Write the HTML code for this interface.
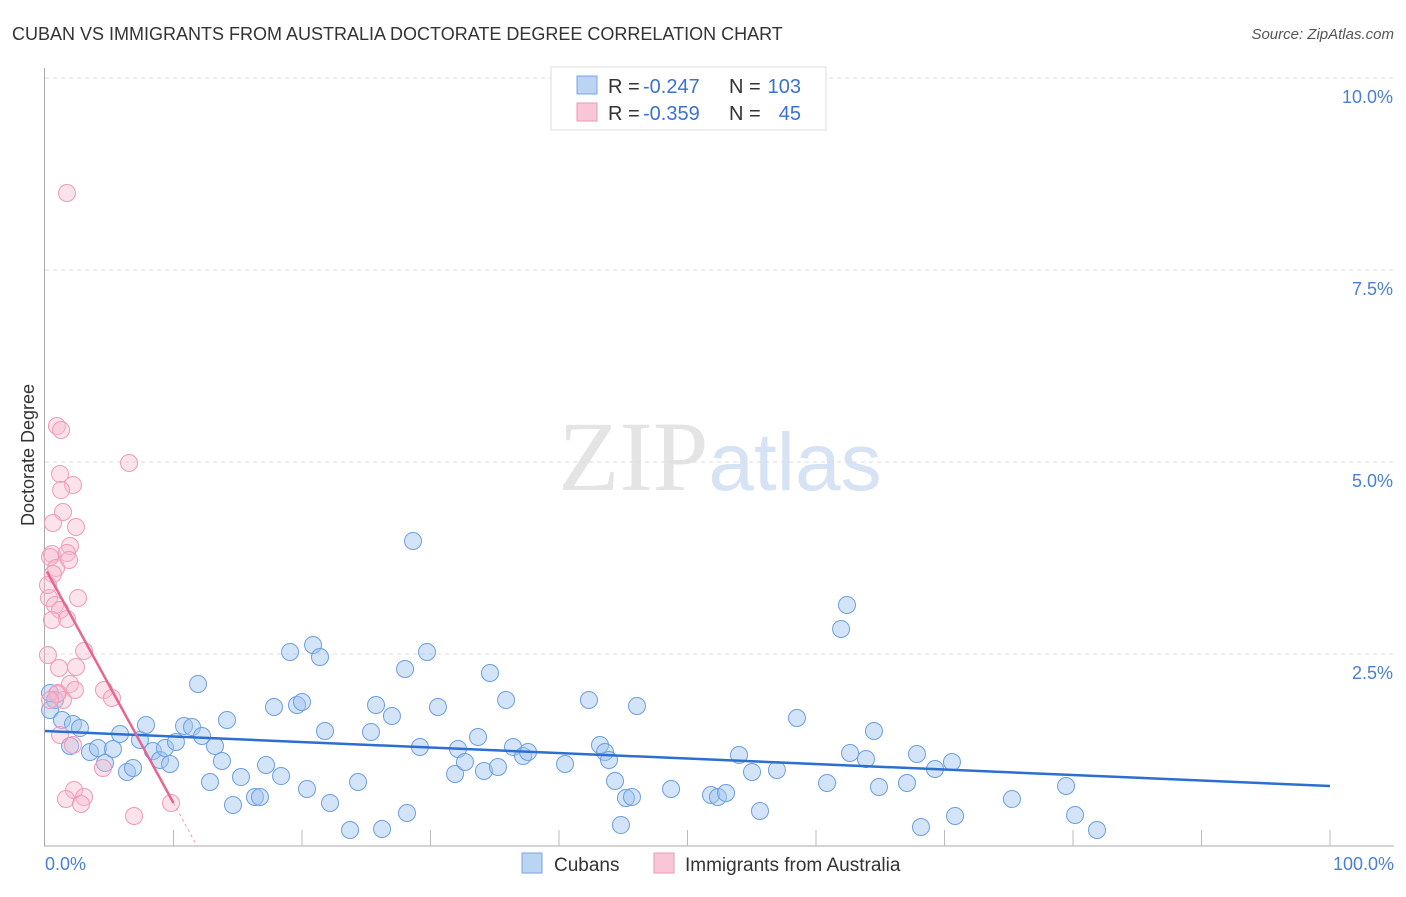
<!DOCTYPE html>
<html><head><meta charset="utf-8"><style>
body{margin:0;background:#fff;font-family:"Liberation Sans",sans-serif}
svg text{font-family:"Liberation Sans",sans-serif}
</style></head><body>
<svg width="1406" height="892">
<text x="12" y="40" font-size="18" fill="#333">CUBAN VS IMMIGRANTS FROM AUSTRALIA DOCTORATE DEGREE CORRELATION CHART</text>
<text x="1394" y="39" font-size="15" fill="#555" font-style="italic" text-anchor="end">Source: ZipAtlas.com</text>
<text x="720" y="490" font-size="100" fill="#e4e4e4" text-anchor="middle" font-family="Liberation Serif"><tspan font-family="Liberation Serif">ZIP</tspan><tspan fill="#d6e3f5" font-family="Liberation Sans" font-size="82">atlas</tspan></text>
<g id="grid"></g><g id="pts"></g><g id="lines"></g>
<text transform="translate(34,455) rotate(-90)" font-size="18" fill="#333" text-anchor="middle">Doctorate Degree</text>
<text x="45" y="870" font-size="18" fill="#4a7fd4">0.0%</text>
<text x="1394" y="870" font-size="18" fill="#4a7fd4" text-anchor="end">100.0%</text>
<g>
<rect x="551" y="67" width="275" height="63" fill="#fff" stroke="#ddd"/>
<rect x="577" y="76" width="20" height="18" fill="#bcd4f3" stroke="#7aa5e0"/>
<text x="608" y="93" font-size="20" fill="#333">R =</text>
<text x="643" y="93" font-size="20" fill="#3a72cf">-0.247</text>
<text x="729" y="93" font-size="20" fill="#333">N =</text>
<text x="801" y="93" font-size="20" fill="#3a72cf" text-anchor="end">103</text>
<rect x="577" y="103" width="20" height="18" fill="#f8c6d6" stroke="#ec9ab4"/>
<text x="608" y="120" font-size="20" fill="#333">R =</text>
<text x="643" y="120" font-size="20" fill="#3a72cf">-0.359</text>
<text x="729" y="120" font-size="20" fill="#333">N =</text>
<text x="801" y="120" font-size="20" fill="#3a72cf" text-anchor="end">45</text>
</g>
<g>
<rect x="522" y="853" width="20" height="20" fill="#bcd4f3" stroke="#7aa5e0"/>
<text x="554" y="871" font-size="19" fill="#333">Cubans</text>
<rect x="654" y="853" width="20" height="20" fill="#f8c6d6" stroke="#ec9ab4"/>
<text x="685" y="871" font-size="19" fill="#333">Immigrants from Australia</text>
</g>
</svg>
<script>
const yTicks=[2.5,5.0,7.5,10.0];
const yTickLabels=["2.5%","5.0%","7.5%","10.0%"];
const xTicks=[10,20,30,40,50,60,70,80,90,100];
const bluePx=[[50,693],[55,700],[50,710],[62,720],[70,746],[73,724],[80,728],[90,752],[98,748],[105,763],[113,749],[120,734],[127,772],[133,768],[140,740],[146,725],[153,751],[160,760],[165,748],[170,764],[176,742],[184,726],[192,727],[198,684],[202,736],[210,782],[215,746],[222,761],[227,720],[233,805],[241,777],[255,797],[260,797],[266,765],[274,707],[281,776],[290,652],[297,705],[302,702],[307,789],[313,645],[320,657],[325,731],[330,803],[350,830],[358,782],[371,732],[376,705],[382,829],[392,716],[405,669],[407,813],[413,541],[420,747],[427,652],[438,707],[455,774],[458,749],[465,762],[478,737],[484,771],[490,673],[498,767],[506,700],[513,747],[523,756],[528,752],[565,764],[589,700],[600,745],[605,752],[609,760],[615,781],[621,825],[626,798],[632,797],[637,706],[671,789],[711,795],[718,797],[726,793],[739,755],[752,772],[760,811],[777,770],[797,718],[827,783],[841,629],[847,605],[850,753],[866,759],[874,731],[879,787],[907,783],[917,754],[921,827],[935,769],[952,762],[955,816],[1012,799],[1066,786],[1075,815],[1097,830]];
const pinkPx=[[67,193],[57,426],[61,430],[129,463],[60,474],[73,485],[61,490],[63,512],[76,527],[53,523],[70,546],[52,554],[50,557],[67,553],[69,560],[56,568],[53,574],[78,598],[49,598],[55,605],[60,610],[67,619],[48,655],[84,651],[59,668],[76,667],[70,684],[75,690],[104,690],[112,698],[58,693],[63,700],[73,745],[103,768],[74,790],[84,797],[66,799],[81,804],[171,803],[134,816],[57,694],[50,700],[60,735],[52,620],[48,585]];
const cubansX=bluePx.map(p=>+((p[0]-45)/12.85).toFixed(2));
const cubansY=bluePx.map(p=>+((846-p[1])/76.8).toFixed(3));
const ausX=pinkPx.map(p=>+((p[0]-45)/12.85).toFixed(2));
const ausY=pinkPx.map(p=>+((846-p[1])/76.8).toFixed(3));
const blueTrend=[1.497,0.781];
const pinkTrend=[3.62,-0.306];
const X=v=>45+v*12.85, Y=v=>846-v*76.8;
const NS="http://www.w3.org/2000/svg";
function mk(t,a,p){const e=document.createElementNS(NS,t);for(const k in a)e.setAttribute(k,a[k]);p.appendChild(e);return e;}
const g=document.getElementById('grid');
yTicks.forEach((v,i)=>{
 const l=mk('line',{x1:45,x2:1394,y1:Y(v),y2:Y(v),stroke:'#ddd','stroke-dasharray':'4,4'},g);
 
 
 const t=mk('text',{x:1393,y:Y(v)+25,'font-size':18,fill:'#4a7fd4','text-anchor':'end'},g);t.textContent=yTickLabels[i];
 
 
});
const ax=mk('line',{x1:44.5,x2:44.5,y1:68,y2:846,stroke:'#aaa'},g);


const bx=mk('line',{x1:44,x2:1394,y1:846,y2:846,stroke:'#aaa'},g);


xTicks.forEach(v=>{const l=mk('line',{x1:X(v),x2:X(v),y1:830,y2:846,stroke:'#bbb'},g);
 
 });
const pg=document.getElementById('pts');
cubansX.forEach((x,i)=>{const c=mk('circle',{cx:X(x),cy:Y(cubansY[i]),r:8.5,fill:'rgba(160,196,240,0.45)',stroke:'#6a9fe0','stroke-width':1},pg);
 
 });
ausX.forEach((x,i)=>{const c=mk('circle',{cx:X(x),cy:Y(ausY[i]),r:8.5,fill:'rgba(248,184,206,0.4)',stroke:'#ee9ab8','stroke-width':1},pg);
 
 });
const lg=document.getElementById('lines');
const bl=mk('line',{x1:X(0),y1:Y(blueTrend[0]),x2:X(100),y2:Y(blueTrend[1]),stroke:'#2b6fd1','stroke-width':2.5},lg);


const pf=x=>pinkTrend[0]+pinkTrend[1]*x;
const pl=mk('line',{x1:X(0.15),y1:Y(pf(0.15)),x2:X(10),y2:Y(pf(10)),stroke:'#e4678f','stroke-width':2.5},lg);


const pd=mk('line',{x1:X(10),y1:Y(pf(10)),x2:X(11.8),y2:Y(Math.max(pf(11.8),0)),stroke:'#e4a0b6','stroke-width':1,'stroke-dasharray':'3,3'},lg);


</script>
</body></html>
